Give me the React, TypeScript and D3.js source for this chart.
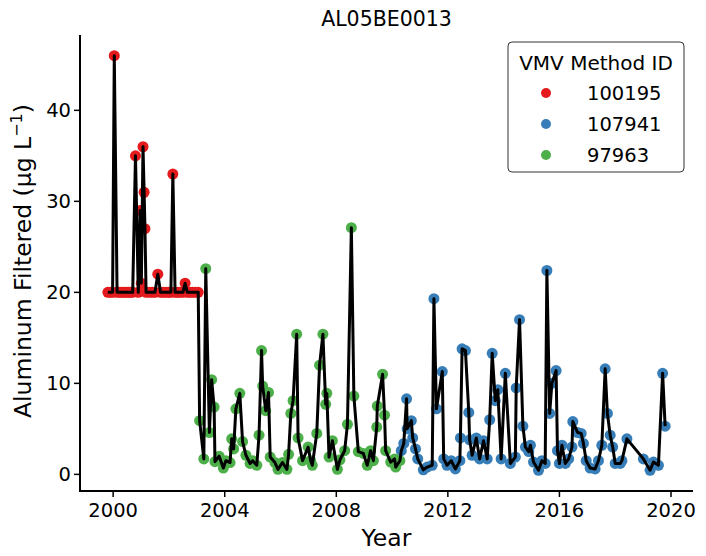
import React from 'react';
import * as d3 from 'd3';

// sample dates (decimal years) and values for each VMV method
const years100195 = [1999.81, 1999.9, 1999.98, 2000.04, 2000.14, 2000.22, 2000.3, 2000.38, 2000.46, 2000.54, 2000.62, 2000.7, 2000.8, 2000.9, 2000.97, 2001.01, 2001.07, 2001.11, 2001.14, 2001.18, 2001.3, 2001.4, 2001.5, 2001.6, 2001.7, 2001.8, 2001.9, 2002.0, 2002.07, 2002.14, 2002.22, 2002.3, 2002.4, 2002.5, 2002.58, 2002.66, 2002.75, 2002.85, 2002.95, 2003.05];
const vals100195 = [20, 20, 20, 46, 20, 20, 20, 20, 20, 20, 20, 20, 35, 20, 29, 21, 36, 31, 27, 20, 20, 20, 20, 22, 20, 20, 20, 20, 20, 33, 20, 20, 20, 20, 21, 20, 20, 20, 20, 20];

const years97963 = [2003.1, 2003.25, 2003.32, 2003.45, 2003.53, 2003.62, 2003.65, 2003.8, 2003.95, 2004.04, 2004.19, 2004.25, 2004.32, 2004.4, 2004.54, 2004.64, 2004.76, 2004.91, 2005.0, 2005.15, 2005.23, 2005.32, 2005.36, 2005.47, 2005.57, 2005.63, 2005.8, 2005.91, 2006.07, 2006.23, 2006.29, 2006.37, 2006.45, 2006.58, 2006.63, 2006.79, 2006.99, 2007.08, 2007.14, 2007.3, 2007.4, 2007.52, 2007.62, 2007.66, 2007.74, 2007.86, 2008.04, 2008.13, 2008.3, 2008.4, 2008.54, 2008.63, 2008.79, 2008.97, 2009.11, 2009.23, 2009.33, 2009.45, 2009.47, 2009.66, 2009.73, 2009.77, 2009.95, 2010.09, 2010.13, 2010.28];
const vals97963 = [5.9, 1.7, 22.6, 4.6, 10.4, 7.4, 1.4, 2.0, 0.7, 1.5, 1.3, 3.9, 2.8, 7.2, 8.9, 3.6, 2.1, 1.2, 1.5, 1.0, 4.3, 13.6, 9.7, 7.0, 9.0, 1.9, 1.3, 0.55, 1.3, 0.55, 2.2, 6.7, 8.1, 15.4, 4.0, 1.5, 3.0, 1.5, 1.0, 4.5, 12.0, 15.4, 7.7, 8.9, 1.9, 3.7, 0.55, 1.6, 2.6, 5.5, 27.1, 8.6, 2.5, 2.3, 1.0, 2.6, 1.5, 5.2, 7.5, 11.0, 6.5, 2.6, 1.35, 1.7, 0.8, 1.5];

const years107941 = [2010.33, 2010.42, 2010.52, 2010.54, 2010.69, 2010.74, 2010.84, 2010.92, 2011.12, 2011.26, 2011.44, 2011.5, 2011.59, 2011.8, 2011.85, 2011.97, 2012.12, 2012.27, 2012.43, 2012.45, 2012.51, 2012.63, 2012.75, 2012.78, 2012.87, 2013.02, 2013.14, 2013.28, 2013.41, 2013.5, 2013.59, 2013.7, 2013.79, 2013.91, 2014.06, 2014.24, 2014.42, 2014.45, 2014.57, 2014.69, 2014.78, 2014.9, 2014.96, 2015.07, 2015.25, 2015.37, 2015.49, 2015.55, 2015.65, 2015.73, 2015.88, 2015.93, 2016.0, 2016.09, 2016.21, 2016.33, 2016.45, 2016.48, 2016.65, 2016.78, 2016.86, 2016.96, 2017.1, 2017.28, 2017.4, 2017.52, 2017.64, 2017.72, 2017.82, 2017.91, 2018.0, 2018.18, 2018.24, 2018.42, 2019.01, 2019.25, 2019.37, 2019.55, 2019.7, 2019.79];
const vals107941 = [2.6, 3.4, 8.3, 5.0, 5.9, 4.0, 2.8, 1.7, 0.5, 0.8, 1.0, 19.3, 7.2, 11.3, 1.7, 1.0, 1.5, 0.6, 1.5, 4.0, 13.8, 13.6, 6.8, 3.8, 2.1, 4.0, 1.7, 3.7, 1.7, 6.0, 13.3, 8.1, 9.3, 1.7, 11.1, 1.2, 1.9, 9.5, 17.0, 5.3, 3.0, 2.5, 3.2, 1.35, 0.45, 1.5, 1.2, 22.4, 6.7, 10.0, 11.4, 2.6, 1.2, 3.2, 1.2, 1.7, 3.0, 5.8, 4.6, 4.5, 3.4, 1.5, 0.7, 0.6, 1.5, 3.2, 11.6, 6.7, 4.3, 3.0, 1.2, 1.2, 1.5, 3.9, 1.7, 0.45, 1.35, 1.0, 11.1, 5.3];

const methods = ['100195', '107941', '97963'];
const methodColors = ['#e41a1c', '#377eb8', '#4daf4a'];
const yTicks = [0, 10, 20, 30, 40];
const xTicks = [2000, 2004, 2008, 2012, 2016, 2020];

interface Pt { year: number; value: number; method: string; }

const FONT = '"DejaVu Sans", sans-serif';

const App: React.FC = () => {
  const W = 706, H = 556;
  const left = 80, right = 693, top = 35, bottom = 491;

  const series: Record<string, [number[], number[]]> = {
    '100195': [years100195, vals100195],
    '107941': [years107941, vals107941],
    '97963': [years97963, vals97963],
  };
  const data: Pt[] = [];
  methods.forEach(m => {
    const [ys, vs] = series[m];
    ys.forEach((y, i) => data.push({ year: y, value: vs[i], method: m }));
  });
  const sorted = data.slice().sort((a, b) => a.year - b.year);

  // matplotlib-like 5% margins
  const [x0, x1] = d3.extent(data, d => d.year) as [number, number];
  const [y0, y1] = d3.extent(data, d => d.value) as [number, number];
  const px = (x1 - x0) * 0.05, py = (y1 - y0) * 0.05;

  const x = d3.scaleLinear().domain([x0 - px, x1 + px]).range([left, right]);
  const y = d3.scaleLinear().domain([y0 - py, y1 + py]).range([bottom, top]);
  const color = d3.scaleOrdinal<string, string>().domain(methods).range(methodColors);

  const line = d3.line<Pt>().x(d => x(d.year)).y(d => y(d.value));

  return (
    <svg width={W} height={H} style={{ position: 'absolute', left: 0, top: 0, background: 'white' }} fontFamily={FONT}>
      <text x={(left + right) / 2} y={26} textAnchor="middle" fontSize={20.5}>AL05BE0013</text>

      {/* points under the line */}
      <g>
        {data.map((d, i) => (
          <circle key={i} cx={x(d.year)} cy={y(d.value)} r={5.5} fill={color(d.method)} />
        ))}
      </g>
      <path d={line(sorted) || ''} fill="none" stroke="black" strokeWidth={3} strokeLinejoin="round" />

      {/* spines */}
      <line x1={left} x2={left} y1={top} y2={bottom + 1} stroke="black" strokeWidth={2} />
      <line x1={left - 1} x2={right} y1={bottom} y2={bottom} stroke="black" strokeWidth={2} />

      {yTicks.map(t => (
        <g key={t} transform={`translate(0,${y(t)})`}>
          <line x1={left - 6} x2={left} stroke="black" strokeWidth={1.5} />
          <text x={left - 9} dy="0.35em" textAnchor="end" fontSize={19.5}>{t}</text>
        </g>
      ))}
      {xTicks.map(t => (
        <g key={t} transform={`translate(${x(t)},0)`}>
          <line y1={bottom} y2={bottom + 6} stroke="black" strokeWidth={1.5} />
          <text y={bottom + 26} textAnchor="middle" fontSize={19.5}>{t}</text>
        </g>
      ))}

      <text x={(left + right) / 2} y={546} textAnchor="middle" fontSize={23.5}>Year</text>
      <text transform={`translate(31,${(top + bottom) / 2 - 2}) rotate(-90)`} textAnchor="middle" fontSize={23.5}>
        Aluminum Filtered (μg L<tspan fontSize={16} dy={-9}>−1</tspan><tspan dy={9}>)</tspan>
      </text>

      {/* legend */}
      <g transform="translate(508,42)">
        <rect x={0} y={0} width={176} height={130} rx={4} fill="white" stroke="#333" strokeWidth={1} />
        <text x={88} y={28} textAnchor="middle" fontSize={20}>VMV Method ID</text>
        {methods.map((m, i) => (
          <g key={m} transform={`translate(0,${51 + i * 31})`}>
            <circle cx={38} cy={0} r={5} fill={color(m)} />
            <text x={79} dy="0.35em" fontSize={19.5}>{m}</text>
          </g>
        ))}
      </g>
    </svg>
  );
};

export default App;
